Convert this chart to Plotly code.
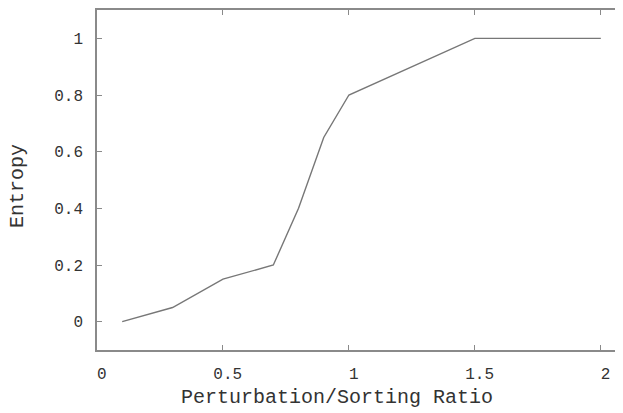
import plotly.graph_objects as go

ratio = [0.1, 0.3, 0.5, 0.7, 0.8, 0.9, 1.0, 1.5, 2.0]
entropy = [0.0, 0.05, 0.15, 0.2, 0.4, 0.65, 0.8, 1.0, 1.0]

x_ticks = [0, 0.5, 1, 1.5, 2]
x_tick_text = ["0", "0.5", "1", "1.5", "2"]
y_ticks = [0, 0.2, 0.4, 0.6, 0.8, 1]
y_tick_text = ["0", "0.2", "0.4", "0.6", "0.8", "1"]

FONT = "Liberation Mono"
TXT = "#333333"
FRAME = "#8a8a8a"

# the page body has an 8px margin, so the figure is sized/offset accordingly
W, H = 615, 405
L, R, T, B = 89, 0, 0, 63
PW, PH = W - L - R, H - T - B

fig = go.Figure()
fig.add_trace(go.Scatter(x=ratio, y=entropy, mode="lines",
                         line=dict(color="#777777", width=1.4),
                         showlegend=False, hoverinfo="skip"))
# invisible trace for right-side tick marks
fig.add_trace(go.Scatter(x=ratio, y=entropy, mode="lines", yaxis="y2",
                         line=dict(width=0), opacity=0,
                         showlegend=False, hoverinfo="skip"))

fig.update_layout(
    width=W, height=H,
    margin=dict(l=L, r=R, t=T, b=B, pad=0),
    paper_bgcolor="white", plot_bgcolor="white",
    font=dict(family=FONT, size=16, color=TXT),
    xaxis=dict(range=[0, 2.088], tickvals=x_ticks,
               ticktext=["\u00a0" + t for t in x_tick_text],
               ticks="inside", ticklen=5, tickcolor=FRAME, tickwidth=1.2,
               showline=True, linecolor=FRAME, linewidth=1.5, mirror="ticks",
               showgrid=False, zeroline=False, ticklabelstandoff=8,
               tickfont=dict(family=FONT, size=16, color=TXT)),
    yaxis=dict(range=[-0.1, 1.1], tickvals=y_ticks, ticktext=y_tick_text,
               ticks="inside", ticklen=5, tickcolor=FRAME, tickwidth=1.2,
               showline=True, linecolor=FRAME, linewidth=1.5, mirror=False,
               showgrid=False, zeroline=False, ticklabelstandoff=9,
               tickfont=dict(family=FONT, size=16, color=TXT)),
    yaxis2=dict(range=[-0.1, 1.1], tickvals=y_ticks, overlaying="y", side="right",
                ticks="inside", ticklen=5, tickcolor=FRAME, tickwidth=1.2,
                showline=False, showticklabels=False, showgrid=False, zeroline=False),
    annotations=[
        dict(text="Perturbation/Sorting Ratio", xref="paper", yref="paper",
             x=(329 - L) / PW, y=-(390 - (T + PH)) / PH, showarrow=False,
             xanchor="center", yanchor="middle",
             font=dict(family=FONT, size=20, color=TXT)),
        dict(text="Entropy", xref="paper", yref="paper",
             x=-(L - 10) / PW, y=((T + PH) - 177) / PH, showarrow=False,
             textangle=-90, xanchor="center", yanchor="middle",
             font=dict(family=FONT, size=20, color=TXT)),
    ],
)

fig.write_html("out.html")
